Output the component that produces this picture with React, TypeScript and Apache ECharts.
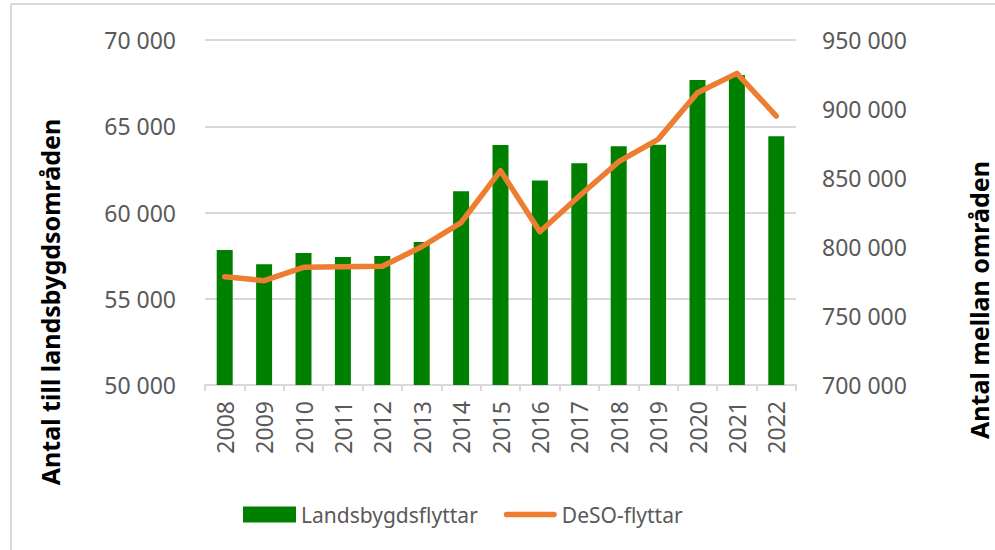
import React, { useEffect, useRef } from "react";
import * as echarts from "echarts";

const years = ["2008","2009","2010","2011","2012","2013","2014","2015","2016","2017","2018","2019","2020","2021","2022"];
const landsbygdsflyttar = [57830, 57000, 57650, 57420, 57480, 58290, 61230, 63910, 61850, 62850, 63840, 63930, 67680, 67970, 64420];
const desoFlyttar = [778500, 775600, 785300, 785700, 786000, 800200, 817600, 855300, 811100, 837000, 861800, 878000, 911800, 925800, 894900];
const leftTitle = "Antal till landsbygdsområden";
const rightTitle = "Antal mellan områden";

const fmt = (v: number) => {
  const s = String(Math.round(v));
  return s.replace(/\B(?=(\d{3})+(?!\d))/g, " ");
};

const FONT = "'Noto Sans', sans-serif";

export default function App() {
  const ref = useRef<HTMLDivElement>(null);
  useEffect(() => {
    if (!ref.current) return;
    const chart = echarts.init(ref.current, undefined, { renderer: "svg" });
    chart.setOption({
      animation: false,
      backgroundColor: "#ffffff",
      textStyle: { fontFamily: FONT },
      grid: { left: 205, right: 199, top: 40, bottom: 165, containLabel: false },
      legend: {
        top: 499,
        left: 238,
        itemGap: 26,
        itemWidth: 53,
        itemHeight: 16,
        symbolKeepAspect: true,
        textStyle: { fontSize: 21, color: "#595959", fontFamily: FONT },
        data: [
          { name: "Landsbygdsflyttar", icon: "rect" },
          { name: "DeSO-flyttar", icon: "path://M3,0 L55,0 A3,3 0 0 1 55,6 L3,6 A3,3 0 0 1 3,0 Z" },
        ],
      },
      graphic: [
        { type: "line", shape: { x1: 11, y1: 4, x2: 995, y2: 4 }, style: { stroke: "#d9d9d9", lineWidth: 2 } },
        { type: "line", shape: { x1: 11, y1: 4, x2: 11, y2: 550 }, style: { stroke: "#d9d9d9", lineWidth: 2 } },
        {
          type: "text", x: 50, y: 302, rotation: Math.PI / 2,
          style: { text: leftTitle, fontSize: 25, fontWeight: "bold", fill: "#000", fontFamily: FONT, align: "center", verticalAlign: "middle" },
        },
        {
          type: "text", x: 979, y: 300, rotation: Math.PI / 2,
          style: { text: rightTitle, fontSize: 25, fontWeight: "bold", fill: "#000", fontFamily: FONT, align: "center", verticalAlign: "middle" },
        },
      ],
      xAxis: {
        type: "category",
        data: years,
        boundaryGap: true,
        axisLine: { lineStyle: { color: "#d9d9d9", width: 2 } },
        axisTick: { show: true, length: 6, lineStyle: { color: "#d9d9d9", width: 2 } },
        axisLabel: { rotate: 90, fontSize: 23, color: "#595959", margin: 16, fontFamily: FONT, interval: 0 },
      },
      yAxis: [
        {
          type: "value", min: 50000, max: 70000, interval: 5000,
          axisLine: { show: false }, axisTick: { show: false },
          splitLine: { lineStyle: { color: "#d9d9d9", width: 2 } },
          axisLabel: { fontSize: 23, color: "#595959", margin: 29, formatter: fmt, fontFamily: FONT },
        },
        {
          type: "value", min: 700000, max: 950000, interval: 50000,
          axisLine: { show: false }, axisTick: { show: false },
          splitLine: { show: false },
          axisLabel: { fontSize: 23, color: "#595959", margin: 26, formatter: fmt, fontFamily: FONT },
        },
      ],
      series: [
        {
          name: "Landsbygdsflyttar", type: "bar", data: landsbygdsflyttar, yAxisIndex: 0,
          barWidth: 16, itemStyle: { color: "#008000" },
        },
        {
          name: "DeSO-flyttar", type: "line", data: desoFlyttar, yAxisIndex: 1,
          symbol: "none", lineStyle: { color: "#ED7D31", width: 5.5, cap: "round", join: "round" },
          itemStyle: { color: "#ED7D31" },
        },
      ],
    });
    return () => chart.dispose();
  }, []);
  return <div ref={ref} style={{ position: "fixed", left: 0, top: 0, width: 995, height: 550 }} />;
}
